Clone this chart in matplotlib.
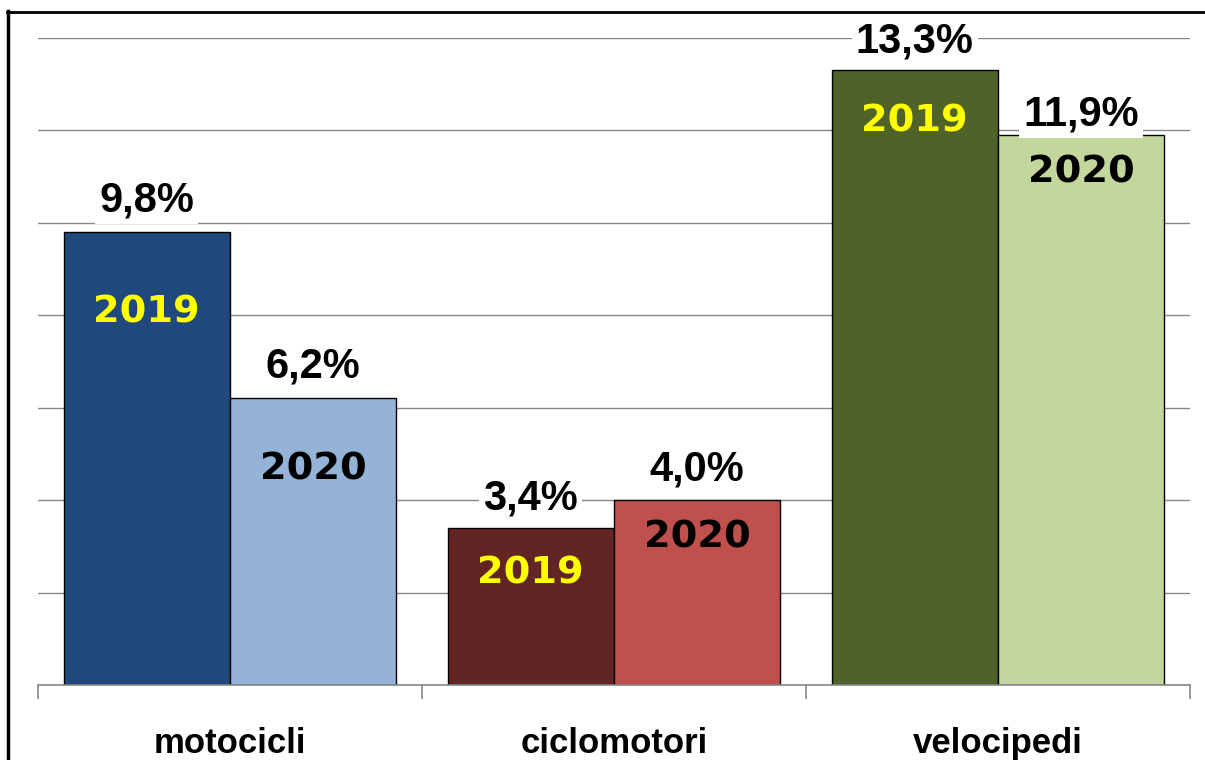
import matplotlib
matplotlib.use('Agg')
import matplotlib.pyplot as plt
import numpy as np
from matplotlib.lines import Line2D

# dati
categorie = ['motocicli', 'ciclomotori', 'velocipedi']
valori_2019 = [9.8, 3.4, 13.3]
valori_2020 = [6.2, 4.0, 11.9]
etichette_2019 = ['9,8%', '3,4%', '13,3%']
etichette_2020 = ['6,2%', '4,0%', '11,9%']
anni = ['2019', '2020']

colori_2019 = ['#1F497D', '#632523', '#4F6228']
colori_2020 = ['#95B3D7', '#C0504D', '#C3D69B']

# scostamenti delle etichette (in punti)
off_pct_2019 = [23, 21, 21]
off_pct_2020 = [23, 22, 15]
off_anno_2019 = [-58, -33, -37]
off_anno_2020 = [-51, -27, -27]

plt.rcParams['font.family'] = ['Liberation Sans', 'DejaVu Sans']

fig = plt.figure(figsize=(12.05, 7.6), dpi=100)
W, H = 1205, 760
ax = fig.add_axes([38 / W, (H - 685) / H, (1190 - 38) / W, (685 - 38) / H])

x = np.arange(len(categorie))
larghezza = 0.4335

b1 = ax.bar(x - larghezza / 2, valori_2019, larghezza, color=colori_2019,
            edgecolor='black', linewidth=1, zorder=3)
b2 = ax.bar(x + larghezza / 2, valori_2020, larghezza, color=colori_2020,
            edgecolor='black', linewidth=1, zorder=3)

ax.set_xlim(-0.5, 2.5)
ax.set_ylim(0, 14)

# griglia
ax.set_yticks(np.arange(0, 15, 2))
ax.yaxis.grid(True, color='#868686', linewidth=1.0, zorder=0)
ax.tick_params(axis='y', left=False, labelleft=False)
for s in ['left', 'right', 'top']:
    ax.spines[s].set_visible(False)
ax.spines['bottom'].set_color('#868686')
ax.spines['bottom'].set_linewidth(1.2)
ax.spines['bottom'].set_zorder(4)

ax.set_xticks(x)
ax.set_xticklabels(categorie, fontsize=25, fontweight='bold')
ax.tick_params(axis='x', which='major', length=0, pad=30)
ax.set_xticks([-0.5, 0.5, 1.5, 2.5], minor=True)
ax.tick_params(axis='x', which='minor', length=10, color='#868686', width=1.2)

box = dict(facecolor='white', edgecolor='none', pad=3)
anno_font = dict(family=['DejaVu Sans'], fontsize=27.5, fontweight='bold')
for i in range(len(categorie)):
    xa = x[i] - larghezza / 2
    xb = x[i] + larghezza / 2
    ax.annotate(etichette_2019[i], (xa, valori_2019[i]), xytext=(0, off_pct_2019[i]),
                textcoords='offset points', ha='center', va='center',
                fontsize=30, fontweight='bold', bbox=box, zorder=5)
    ax.annotate(etichette_2020[i], (xb, valori_2020[i]), xytext=(0, off_pct_2020[i]),
                textcoords='offset points', ha='center', va='center',
                fontsize=30, fontweight='bold', bbox=box, zorder=5)
    ax.annotate(anni[0], (xa, valori_2019[i]), xytext=(0, off_anno_2019[i]),
                textcoords='offset points', ha='center', va='center',
                color='#FFFF00', zorder=5, **anno_font)
    ax.annotate(anni[1], (xb, valori_2020[i]), xytext=(0, off_anno_2020[i]),
                textcoords='offset points', ha='center', va='center',
                color='black', zorder=5, **anno_font)

# cornice
fig.add_artist(Line2D([8 / W, 8 / W], [0, 1 - 11 / H], transform=fig.transFigure,
                      color='black', linewidth=2.5))
fig.add_artist(Line2D([7 / W, 1], [1 - 12 / H, 1 - 12 / H], transform=fig.transFigure,
                      color='black', linewidth=2))

fig.savefig('out.png', dpi=100)
